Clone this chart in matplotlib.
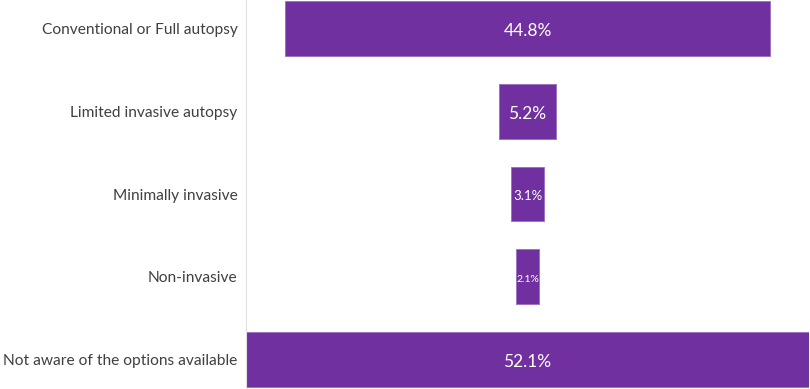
import matplotlib.pyplot as plt

categories = ['Conventional or Full autopsy', 'Limited invasive autopsy',
              'Minimally invasive', 'Non-invasive',
              'Not aware of the options available']
values = [44.8, 5.2, 3.1, 2.1, 52.1]
label_sizes = [12.5, 12.5, 9.5, 7.5, 12.5]

plt.rcParams['font.family'] = ['Lato', 'DejaVu Sans']

fig = plt.figure(figsize=(8.1, 3.89), dpi=100)
ax = fig.add_axes([246 / 810, 0, (809 - 246) / 810, 1])

half = max(values) / 2
lefts = [-v / 2 for v in values]
ax.barh(range(len(values)), values, left=lefts, height=0.66,
        color='#7030A0', edgecolor='#9a6cc0', linewidth=0.6)

for i, v in enumerate(values):
    ax.text(0, i + 0.03, f'{v}%', ha='center', va='center',
            color='white', fontsize=label_sizes[i])

ax.set_xlim(-half, half)
ax.set_ylim(len(values) - 1 + 0.355, -0.343)
ax.set_yticks(range(len(values)))
ax.set_yticklabels(categories, fontsize=11.2, color='#404040')
ax.tick_params(axis='y', length=0, pad=6)
ax.set_xticks([])
for s in ['top', 'right', 'bottom']:
    ax.spines[s].set_visible(False)
ax.spines['left'].set_color('#e0e0e0')
ax.spines['left'].set_linewidth(0.8)

fig.savefig('out.png', dpi=100)
